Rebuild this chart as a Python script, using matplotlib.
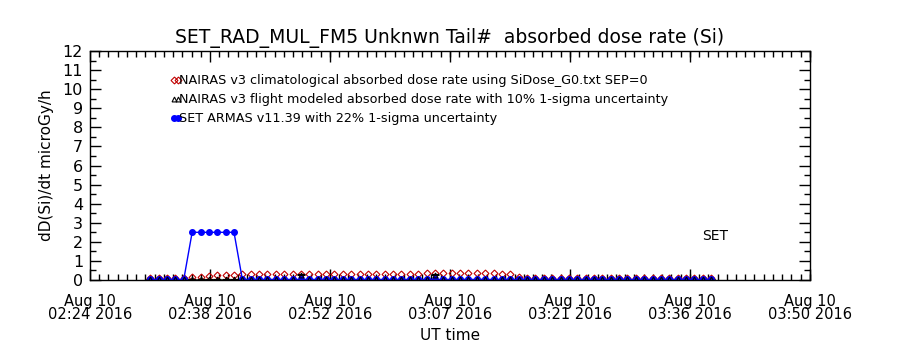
import numpy as np
import matplotlib.pyplot as plt
from matplotlib.ticker import AutoMinorLocator

# time in minutes after 02:24 UT, 10 Aug 2016
t_min = [7.2, 8.2, 9.2, 10.2, 11.2, 12.2, 13.2, 14.2, 15.2, 16.2,
         17.2, 18.2, 19.2, 20.2, 21.2, 22.2, 23.2, 24.2, 25.2, 26.2,
         27.2, 28.2, 29.2, 30.2, 31.2, 32.2, 33.2, 34.2, 35.2, 36.2,
         37.2, 38.2, 39.2, 40.2, 41.2, 42.2, 43.2, 44.2, 45.2, 46.2,
         47.2, 48.2, 49.2, 50.2, 51.2, 52.2, 53.2, 54.2, 55.2, 56.2,
         57.2, 58.2, 59.2, 60.2, 61.2, 62.2, 63.2, 64.2, 65.2, 66.2,
         67.2, 68.2, 69.2, 70.2, 71.2, 72.2, 73.2, 74.2]

# NAIRAS climatological dose rate (red diamonds)
nairas_clim = [0.08, 0.08, 0.09, 0.09, 0.10, 0.15, 0.16, 0.20, 0.24, 0.25,
               0.28, 0.32, 0.33, 0.33, 0.33, 0.33, 0.33, 0.33, 0.33, 0.33,
               0.33, 0.33, 0.33, 0.33, 0.33, 0.33, 0.33, 0.33, 0.33, 0.33,
               0.33, 0.33, 0.34, 0.35, 0.35, 0.35, 0.35, 0.35, 0.35, 0.35,
               0.35, 0.35, 0.34, 0.33, 0.15, 0.10, 0.10, 0.10, 0.10, 0.10,
               0.10, 0.10, 0.10, 0.10, 0.10, 0.10, 0.10, 0.10, 0.10, 0.10,
               0.10, 0.10, 0.10, 0.10, 0.10, 0.10, 0.10, 0.10]

# NAIRAS flight modeled dose rate (black triangles), 10% 1-sigma
nairas_flt = [0.06, 0.06, 0.06, 0.06, 0.06, 0.06, 0.06, 0.06, 0.06, 0.06,
              0.06, 0.06, 0.06, 0.06, 0.06, 0.06, 0.06, 0.06, 0.28, 0.06,
              0.06, 0.06, 0.06, 0.06, 0.06, 0.06, 0.06, 0.06, 0.06, 0.06,
              0.06, 0.06, 0.06, 0.06, 0.28, 0.06, 0.06, 0.06, 0.06, 0.06,
              0.06, 0.06, 0.06, 0.06, 0.06, 0.06, 0.06, 0.06, 0.06, 0.06,
              0.06, 0.06, 0.06, 0.06, 0.06, 0.06, 0.06, 0.06, 0.06, 0.06,
              0.06, 0.06, 0.06, 0.06, 0.06, 0.06, 0.06, 0.06]

# SET ARMAS measured dose rate (blue dots)
set_armas = [0.03, 0.03, 0.03, 0.03, 0.03, 2.5, 2.5, 2.5, 2.5, 2.5,
             2.5, 0.03, 0.03, 0.03, 0.03, 0.03, 0.03, 0.03, 0.03, 0.03,
             0.03, 0.03, 0.03, 0.03, 0.03, 0.03, 0.03, 0.03, 0.03, 0.03,
             0.03, 0.03, 0.03, 0.03, 0.03, 0.03, 0.03, 0.03, 0.03, 0.03,
             0.03, 0.03, 0.03, 0.03, 0.03, 0.03, 0.03, 0.03, 0.03, 0.03,
             0.03, 0.03, 0.03, 0.03, 0.03, 0.03, 0.03, 0.03, 0.03, 0.03,
             0.03, 0.03, 0.03, 0.03, 0.03, 0.03, 0.03, 0.03]

x_ticks = [0, 14.33, 28.67, 43.0, 57.33, 71.67, 86.0]
x_labels = ['Aug 10\n02:24 2016', 'Aug 10\n02:38 2016', 'Aug 10\n02:52 2016',
            'Aug 10\n03:07 2016', 'Aug 10\n03:21 2016', 'Aug 10\n03:36 2016',
            'Aug 10\n03:50 2016']
legend_labels = ['NAIRAS v3 climatological absorbed dose rate using SiDose_G0.txt SEP=0',
                 'NAIRAS v3 flight modeled absorbed dose rate with 10% 1-sigma uncertainty',
                 'SET ARMAS v11.39 with 22% 1-sigma uncertainty']

t = np.array(t_min)
flt = np.array(nairas_flt)

fig = plt.figure(figsize=(9, 3.5), dpi=100)
ax = fig.add_axes([0.1, 0.2, 0.8, 0.654])

ax.plot(t, nairas_clim, linestyle='none', marker='D', markersize=3.5,
        markerfacecolor='none', markeredgecolor='#c00000', markeredgewidth=0.8)
ax.errorbar(t, flt, yerr=0.1 * flt, fmt='^', color='black', markersize=3.5,
            markerfacecolor='none', markeredgewidth=0.8, elinewidth=1, capsize=3)
ax.plot(t, set_armas, color='#0000ff', linewidth=1, marker='o', markersize=4)

ax.set_xlim(0, 86)
ax.set_ylim(0, 12)
ax.set_xticks(x_ticks)
ax.set_xticklabels(x_labels, fontsize=10.5, linespacing=0.85)
ax.set_yticks(range(0, 13))
ax.set_yticklabels([str(v) for v in range(0, 13)], fontsize=11.5)
ax.xaxis.set_minor_locator(AutoMinorLocator(13))
ax.yaxis.set_minor_locator(AutoMinorLocator(2))
ax.tick_params(which='both', direction='in', top=True, right=True, width=1)
ax.tick_params(which='major', length=8)
ax.tick_params(axis='x', which='major', pad=10)
ax.tick_params(axis='y', which='major', pad=5)
ax.tick_params(which='minor', length=4)
for s in ax.spines.values():
    s.set_linewidth(1)

ax.set_title('SET_RAD_MUL_FM5 Unknwn Tail#  absorbed dose rate (Si)', fontsize=13.5, pad=6)
ax.set_xlabel('UT time', fontsize=11, labelpad=4)
ax.set_ylabel('dD(Si)/dt microGy/h', fontsize=11, labelpad=6)

ax.text(73.1, 2.3, 'SET', fontsize=10, va='center', ha='left')

# legend drawn by hand like the IDL original
leg_y = [10.48, 9.48, 8.48]
ax.plot([10.0, 10.5], [leg_y[0], leg_y[0]], linestyle='none', marker='D', markersize=3.5,
        markerfacecolor='none', markeredgecolor='#c00000', markeredgewidth=0.8)
ax.plot([10.0, 10.5], [leg_y[1], leg_y[1]], linestyle='none', marker='^', markersize=3.5,
        markerfacecolor='none', markeredgecolor='black', markeredgewidth=0.8)
ax.plot([10.0, 10.5], [leg_y[2], leg_y[2]], color='#0000ff', marker='o', markersize=4)
for yy, lab in zip(leg_y, legend_labels):
    ax.text(10.6, yy, lab, fontsize=9.2, va='center', ha='left')

fig.savefig('out.png', dpi=100)
